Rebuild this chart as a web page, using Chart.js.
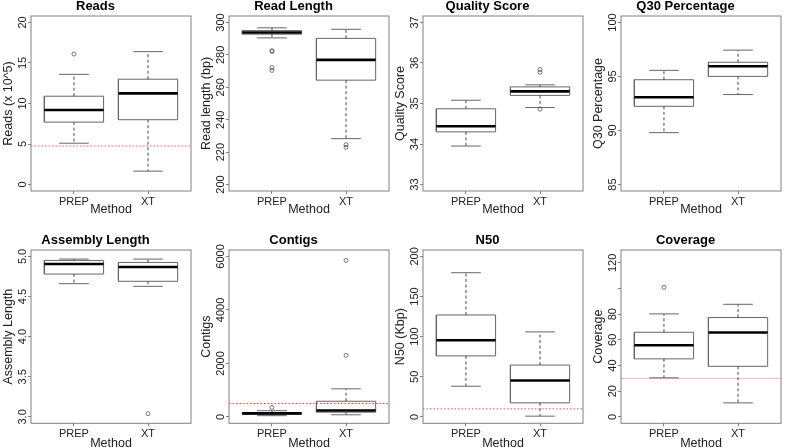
<!DOCTYPE html>
<html>
<head>
<meta charset="utf-8">
<script src="https://cdn.jsdelivr.net/npm/chart.js@4.4.1/dist/chart.umd.min.js"></script>
<style>
  html, body { margin: 0; padding: 0; background: #fff; overflow: hidden; }
  #wrap { position: relative; width: 789px; height: 448px; overflow: hidden; }
  #wrap canvas { position: absolute; }
</style>
</head>
<body>
<div id="wrap"></div>
<script>
// each box: [lower whisker, Q1, median, Q3, upper whisker], one per method
const methods = ['PREP', 'XT'];

const readsStats = [[5.1, 7.7, 9.2, 10.9, 13.6], [1.65, 8.0, 11.25, 13.0, 16.4]];
const readsOutliers = [[16.1], []];
const readsTicks = [0, 5, 10, 15, 20];
const readsCutoff = 4.75;

const readLenStats = [[290.5, 292.8, 293.8, 295.0, 296.7], [228.3, 264.4, 276.9, 290.2, 295.8]];
const readLenOutliers = [[282.6, 282.1, 272.2, 270.4], [224.6, 222.9]];
const readLenTicks = [200, 220, 240, 260, 280, 300];

const qualityStats = [[33.95, 34.30, 34.44, 34.87, 35.08], [34.90, 35.20, 35.30, 35.41, 35.46]];
const qualityOutliers = [[], [35.84, 35.77, 34.86]];
const qualityTicks = [33, 34, 35, 36, 37];

const q30Stats = [[89.8, 92.24, 93.08, 94.7, 95.57], [93.33, 95.01, 95.95, 96.32, 97.44]];
const q30Outliers = [[], []];
const q30Ticks = [85, 90, 95, 100];

const assemblyStats = [[4.66, 4.78, 4.905, 4.95, 4.967], [4.627, 4.69, 4.868, 4.925, 4.967]];
const assemblyOutliers = [[], [3.04]];
const assemblyTicks = [3.0, 3.5, 4.0, 4.5, 5.0];
const assemblyLabels = ['3.0', '3.5', '4.0', '4.5', '5.0'];

const contigsStats = [[45, 100, 130, 160, 230], [78, 175, 238, 585, 1049]];
const contigsOutliers = [[355], [5850, 2300]];
const contigsTicks = [0, 2000, 4000, 6000];
const contigsCutoff = 500;

const n50Stats = [[38.2, 76, 95.5, 127, 179.7], [0.9, 17.5, 45.3, 64.6, 105.9]];
const n50Outliers = [[], []];
const n50Ticks = [0, 50, 100, 150, 200];
const n50Cutoff = 10;

const coverageStats = [[30.4, 45.2, 55.8, 65.9, 80.2], [10.9, 39.4, 65.7, 77.4, 87.7]];
const coverageOutliers = [[101], []];
const coverageTicks = [0, 20, 40, 60, 80, 100, 120];
const coverageLabels = ['0', '20', '40', '60', '80', '', '120'];
const coverageCutoff = 30;

const FONT = "'Liberation Sans', Arial, sans-serif";
const FRAME = '#808080';
const BOXCOL = '#666666';
const TXT = '#222222';
const HALF = 0.4, CAP = 0.2;
const LEFTS = [0, 198, 392, 590];
const TOPS = [0, 234];

const panels = [
  { title: 'Reads', yTitle: 'Reads (x 10^5)', stats: readsStats, outliers: readsOutliers, ticks: readsTicks, lim: [0, 20], cutoff: readsCutoff, cutColor: '#ff4f8f', cutDash: [1.5, 2] },
  { title: 'Read Length', yTitle: 'Read length (bp)', stats: readLenStats, outliers: readLenOutliers, ticks: readLenTicks, lim: [200, 300] },
  { title: 'Quality Score', yTitle: 'Quality Score', stats: qualityStats, outliers: qualityOutliers, ticks: qualityTicks, lim: [33, 37] },
  { title: 'Q30 Percentage', yTitle: 'Q30 Percentage', stats: q30Stats, outliers: q30Outliers, ticks: q30Ticks, lim: [85, 100] },
  { title: 'Assembly Length', yTitle: 'Assembly Length', stats: assemblyStats, outliers: assemblyOutliers, ticks: assemblyTicks, labels: assemblyLabels, lim: [3, 5] },
  { title: 'Contigs', yTitle: 'Contigs', stats: contigsStats, outliers: contigsOutliers, ticks: contigsTicks, lim: [0, 6000], cutoff: contigsCutoff, cutColor: '#ff3b3b', cutDash: [1.5, 2] },
  { title: 'N50', yTitle: 'N50 (Kbp)', stats: n50Stats, outliers: n50Outliers, ticks: n50Ticks, lim: [0, 200], cutoff: n50Cutoff, cutColor: '#ff4a4a', cutDash: [1.5, 2] },
  { title: 'Coverage', yTitle: 'Coverage', stats: coverageStats, outliers: coverageOutliers, ticks: coverageTicks, labels: coverageLabels, lim: [0, 125], cutoff: coverageCutoff, cutColor: '#ffb6c6', cutDash: [] }
];

const measure = document.createElement('canvas').getContext('2d');
measure.font = '11px ' + FONT;

const framePlugin = {
  id: 'frame',
  afterDraw(chart) {
    const a = chart.chartArea, ctx = chart.ctx;
    ctx.save();
    ctx.strokeStyle = FRAME;
    ctx.lineWidth = 1;
    ctx.strokeRect(a.left, a.top, a.right - a.left, a.bottom - a.top);
    ctx.restore();
  }
};

const gap = () => ({ x: null, y: null });

function lineSet(data, color, width, dash, order) {
  return { data, showLine: true, spanGaps: false, pointRadius: 0, fill: false,
    borderColor: color, borderWidth: width, borderDash: dash, borderCapStyle: 'butt', order };
}

function buildDatasets(p) {
  const box = [], med = [], whisk = [], caps = [], outs = [];
  p.stats.forEach((s, i) => {
    const x = i + 1;
    const [lo, q1, m, q3, hi] = s;
    box.push({ x: x - HALF, y: q1 }, { x: x + HALF, y: q1 }, { x: x + HALF, y: q3 }, { x: x - HALF, y: q3 }, { x: x - HALF, y: q1 }, gap());
    med.push({ x: x - HALF, y: m }, { x: x + HALF, y: m }, gap());
    whisk.push({ x, y: q3 }, { x, y: hi }, gap(), { x, y: q1 }, { x, y: lo }, gap());
    caps.push({ x: x - CAP, y: hi }, { x: x + CAP, y: hi }, gap(), { x: x - CAP, y: lo }, { x: x + CAP, y: lo }, gap());
    p.outliers[i].forEach(v => outs.push({ x, y: v }));
  });
  const sets = [
    lineSet(box, BOXCOL, 1, [], 5),
    lineSet(whisk, '#333333', 0.9, [3, 2.5], 4),
    lineSet(caps, BOXCOL, 1, [], 3),
    lineSet(med, '#000000', 2.6, [], 1),
    { data: outs, pointRadius: 2, pointBorderWidth: 0.8, borderColor: '#555555', pointBackgroundColor: 'rgba(0,0,0,0)', backgroundColor: 'rgba(0,0,0,0)', order: 2 }
  ];
  if (p.cutoff !== undefined) {
    sets.push(lineSet([{ x: 0.42, y: p.cutoff }, { x: 2.58, y: p.cutoff }], p.cutColor, 1, p.cutDash, 10));
  }
  return sets;
}

panels.forEach((p, idx) => {
  const row = Math.floor(idx / 4), col = idx % 4;
  const cv = document.createElement('canvas');
  cv.width = 197; cv.height = 224;
  cv.style.left = LEFTS[col] + 'px';
  cv.style.top = TOPS[row] + 'px';
  document.getElementById('wrap').appendChild(cv);

  const labels = p.labels || p.ticks.map(String);
  const widest = Math.max(...labels.map(l => measure.measureText(l).width));
  const span = p.lim[1] - p.lim[0];

  new Chart(cv, {
    type: 'scatter',
    data: { datasets: buildDatasets(p) },
    options: {
      responsive: false, animation: false, devicePixelRatio: 1,
      layout: { padding: { left: 0, right: 6, top: 0, bottom: 0 } },
      plugins: {
        legend: { display: false },
        tooltip: { enabled: false },
        title: { display: true, text: p.title, color: '#000', font: { family: FONT, size: 13, weight: 'bold', lineHeight: 1 }, padding: { top: 0, bottom: 3 } }
      },
      scales: {
        x: {
          type: 'linear', min: 0.42, max: 2.58,
          afterBuildTicks: s => { s.ticks = methods.map((m, i) => ({ value: i + 1 })); },
          afterFit: s => { s.height = row === 0 ? 33 : 34.7; },
          ticks: { callback: v => methods[v - 1], font: { family: FONT, size: 11 }, color: TXT, padding: 1, autoSkip: false, maxRotation: 0 },
          grid: { display: true, drawOnChartArea: false, drawTicks: true, tickLength: 3, color: FRAME },
          border: { display: false },
          title: { display: true, text: 'Method', color: TXT, font: { family: FONT, size: 12.5 }, padding: { top: 0, bottom: 7 } }
        },
        y: {
          type: 'linear', min: p.lim[0] - 0.04 * span, max: p.lim[1] + 0.04 * span,
          afterBuildTicks: s => { s.ticks = p.ticks.map(v => ({ value: v })); },
          afterFit: s => { s.width = 31; },
          ticks: { callback: (v, i) => labels[i], font: { family: FONT, size: 11 }, color: TXT,
            minRotation: 90, maxRotation: 90, crossAlign: 'center', padding: 8.5 - 3 - widest / 2, autoSkip: false },
          grid: { display: true, drawOnChartArea: false, drawTicks: true, tickLength: 3, color: FRAME },
          border: { display: false },
          title: { display: true, text: p.yTitle, color: TXT, font: { family: FONT, size: 12.5 }, padding: { top: 1, bottom: 0 } }
        }
      }
    },
    plugins: [framePlugin]
  });
});
</script>
</body>
</html>
